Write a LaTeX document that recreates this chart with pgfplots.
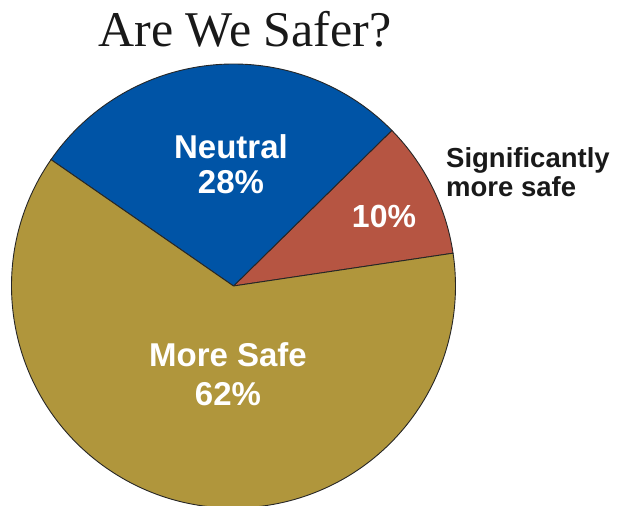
\documentclass[border=0pt]{standalone}
\usepackage{pgfplots}
\pgfplotsset{compat=1.18}
\usepackage{fontspec}
\setmainfont{Liberation Serif}
\newfontfamily\labelfont{Liberation Sans}
\definecolor{pieblue}{RGB}{0,84,166}
\definecolor{piered}{RGB}{182,85,66}
\definecolor{piegold}{RGB}{176,150,60}
\begin{document}
\begin{tikzpicture}
\begin{axis}[
  scale only axis, width=618bp, height=506bp,
  xmin=0, xmax=618, ymin=0, ymax=506,
  hide axis, clip=true,
]
% shares (percent) and pie geometry
\pgfmathsetmacro{\start}{8.5}
\pgfmathsetmacro{\aRed}{\start}
\pgfmathsetmacro{\bRed}{\start+10*3.6}
\pgfmathsetmacro{\bBlue}{\bRed+28*3.6}
\pgfmathsetmacro{\bGold}{\bBlue+62*3.6}
\filldraw[fill=piered, draw=black!85, line width=0.9bp]
  (axis cs:233.5,220) -- ++(\aRed:222bp) arc[start angle=\aRed, end angle=\bRed, radius=222bp] -- cycle;
\filldraw[fill=pieblue, draw=black!85, line width=0.9bp]
  (axis cs:233.5,220) -- ++(\bRed:222bp) arc[start angle=\bRed, end angle=\bBlue, radius=222bp] -- cycle;
\filldraw[fill=piegold, draw=black!85, line width=0.9bp]
  (axis cs:233.5,220) -- ++(\bBlue:222bp) arc[start angle=\bBlue, end angle=\bGold, radius=222bp] -- cycle;
% labels
\node[anchor=base, inner sep=0pt, font=\fontsize{50bp}{52bp}\selectfont, text=black!90] at (axis cs:245,459) {Are We Safer?};
\node[anchor=base, inner sep=0pt, text=white, font=\labelfont\bfseries\fontsize{33bp}{35bp}\selectfont] at (axis cs:231,347) {Neutral};
\node[anchor=base, inner sep=0pt, text=white, font=\labelfont\bfseries\fontsize{33bp}{35bp}\selectfont] at (axis cs:231,312) {28\%};
\node[anchor=base, inner sep=0pt, text=white, font=\labelfont\bfseries\fontsize{32bp}{35bp}\selectfont] at (axis cs:384,278) {10\%};
\node[anchor=base, inner sep=0pt, text=white, font=\labelfont\bfseries\fontsize{33bp}{35bp}\selectfont] at (axis cs:228,139) {More Safe};
\node[anchor=base, inner sep=0pt, text=white, font=\labelfont\bfseries\fontsize{33bp}{35bp}\selectfont] at (axis cs:228,100) {62\%};
\node[anchor=base west, inner sep=0pt, text=black!90, font=\labelfont\bfseries\fontsize{27.5bp}{29bp}\selectfont] at (axis cs:446,338) {Significantly};
\node[anchor=base west, inner sep=0pt, text=black!90, font=\labelfont\bfseries\fontsize{27.5bp}{29bp}\selectfont] at (axis cs:446,309) {more safe};
\end{axis}
\pgfresetboundingbox
\path (current axis.south west) rectangle (current axis.north east);
\end{tikzpicture}
\end{document}
